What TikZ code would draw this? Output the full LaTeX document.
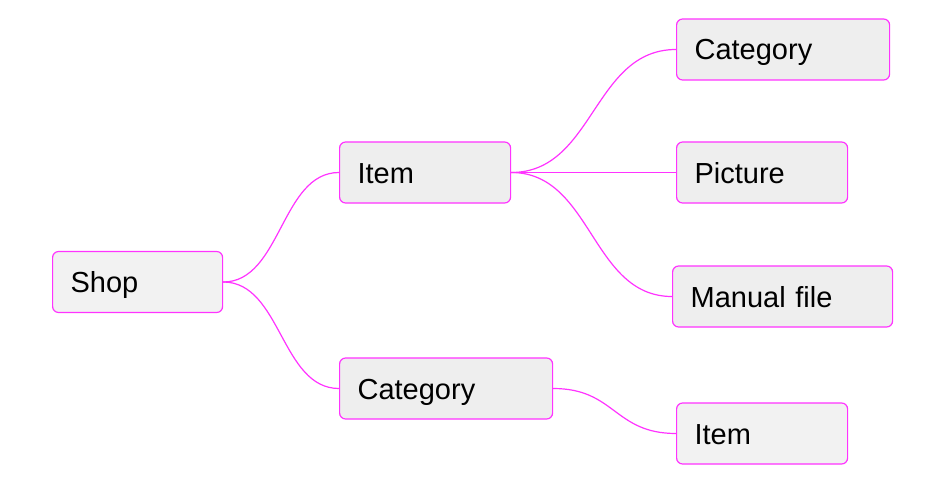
\documentclass[tikz,border=0pt]{standalone}
\usepackage{fontspec}
\setmainfont{Liberation Sans}
\definecolor{edgepink}{RGB}{255,51,255}
\definecolor{boxA}{RGB}{242,242,242}
\definecolor{boxB}{RGB}{238,238,238}
\tikzset{
  mmbox/.style={draw=edgepink, line width=1.2pt, rounded corners=6pt, anchor=west,
    minimum height=61pt, inner xsep=18pt, inner ysep=0pt, align=left,
    text height=21pt, text depth=0pt,
    font=\fontsize{29}{33}\selectfont, text=black},
  mmedge/.style={draw=edgepink, line width=1.2pt},
}
\begin{document}
\begin{tikzpicture}[x=1pt,y=-1pt]
\useasboundingbox (0,0) rectangle (932,484);
\node[mmbox, fill=boxA, text width=134pt] (shop) at (52,282) {Shop};
\node[mmbox, fill=boxB, text width=135pt] (item1) at (339,172.5) {Item};
\node[mmbox, fill=boxB, text width=177pt] (cat1) at (339,388.5) {Category};
\node[mmbox, fill=boxB, text width=177pt] (cat2) at (676,49.5) {Category};
\node[mmbox, fill=boxB, text width=135pt] (pic) at (676,172.5) {Picture};
\node[mmbox, fill=boxB, text width=184pt] (man) at (672,296.5) {Manual file};
\node[mmbox, fill=boxA, text width=135pt] (item2) at (676,433.5) {Item};
\draw[mmedge] (shop.east) .. controls +(58,0) and +(-58,0) .. (item1.west);
\draw[mmedge] (shop.east) .. controls +(58,0) and +(-58,0) .. (cat1.west);
\draw[mmedge] (item1.east) .. controls +(83,0) and +(-83,0) .. (cat2.west);
\draw[mmedge] (item1.east) -- (pic.west);
\draw[mmedge] (item1.east) .. controls +(81,0) and +(-81,0) .. (man.west);
\draw[mmedge] (cat1.east) .. controls +(62,0) and +(-62,0) .. (item2.west);
\end{tikzpicture}
\end{document}
